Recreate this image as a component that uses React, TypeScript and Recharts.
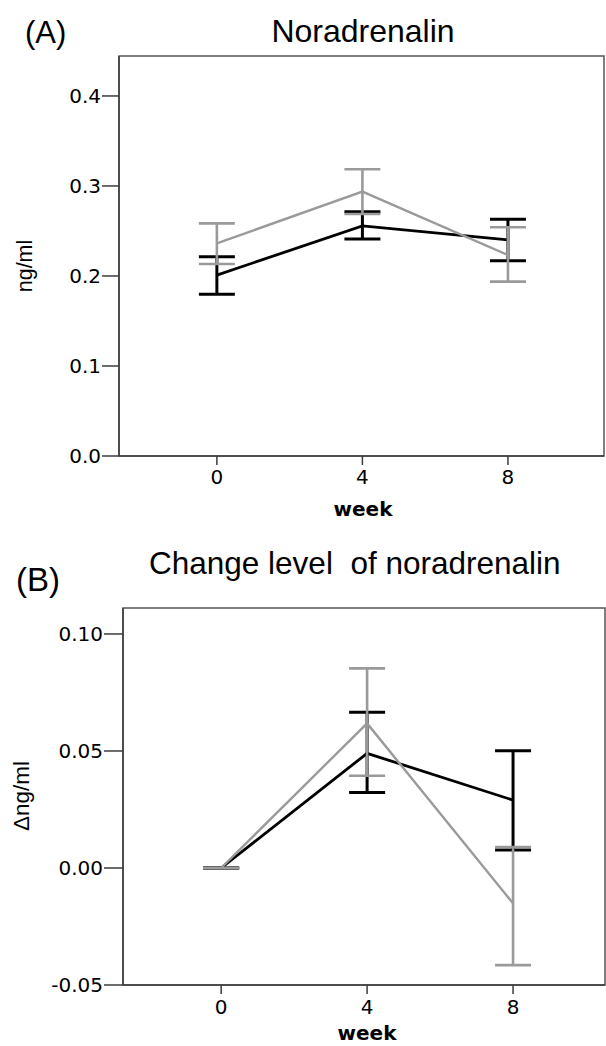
import React from 'react';
import { ComposedChart, Line, XAxis, YAxis, ErrorBar, ReferenceArea } from 'recharts';

// ---- data ----
const weeks = [0, 4, 8];
const weekTicks = [0, 4, 8];

// (A) Noradrenalin, ng/ml
const noraDarkMean = [0.201, 0.2556, 0.24];
const noraDarkUpper = [0.2215, 0.2715, 0.263];
const noraDarkLower = [0.1797, 0.2411, 0.217];
const noraLightMean = [0.2363, 0.2937, 0.2233];
const noraLightUpper = [0.2585, 0.3185, 0.2541];
const noraLightLower = [0.2133, 0.2689, 0.1937];
const noraTicks = [0, 0.1, 0.2, 0.3, 0.4];

// (B) Change level of noradrenalin, Δng/ml
const deltaDarkMean = [0, 0.049, 0.029];
const deltaDarkUpper = [0, 0.0665, 0.0501];
const deltaDarkLower = [0, 0.0323, 0.0077];
const deltaLightMean = [0, 0.0618, -0.0151];
const deltaLightUpper = [0, 0.0853, 0.009];
const deltaLightLower = [0, 0.0394, -0.0415];
const deltaTicks = [-0.05, 0, 0.05, 0.1];

const buildRows = (
  dm: number[], dl: number[], du: number[],
  lm: number[], ll: number[], lu: number[]
) =>
  weeks.map((w, i) => ({
    week: w,
    dark: dm[i],
    darkErr: [dm[i] - dl[i], du[i] - dm[i]],
    light: lm[i],
    lightErr: [lm[i] - ll[i], lu[i] - lm[i]],
  }));

const rowsA = buildRows(noraDarkMean, noraDarkLower, noraDarkUpper, noraLightMean, noraLightLower, noraLightUpper);
const rowsB = buildRows(deltaDarkMean, deltaDarkLower, deltaDarkUpper, deltaLightMean, deltaLightLower, deltaLightUpper);

const DARK = '#000000';
const LIGHT = '#9a9a9a';
const AXIS = '#3c3c3c';
const TICK_FS = 20;

const xDomA: [number, number] = [-2.69, 10.64];
const yDomA: [number, number] = [0, 0.4444];
const xDomB: [number, number] = [-2.69, 10.52];
const yDomB: [number, number] = [-0.05, 0.1111];

const XTick = (props: any) => {
  const { x, y, payload } = props;
  return (
    <text x={x} y={y} dy="0.72em" textAnchor="middle" fontSize={TICK_FS} fontFamily="DejaVu Sans, sans-serif" fill="#000">
      {String(payload.value)}
    </text>
  );
};

const makeYTick = (digits: number) => (props: any) => {
  const { x, y, payload } = props;
  return (
    <text x={x} y={y} dy="0.36em" textAnchor="end" fontSize={TICK_FS} fontFamily="DejaVu Sans, sans-serif" fill="#000">
      {Number(payload.value).toFixed(digits)}
    </text>
  );
};
const YTickA = makeYTick(1);
const YTickB = makeYTick(2);

export default function App() {
  return (
    <div style={{ position: 'absolute', left: 0, top: 0, width: 606, height: 1046, background: '#fff' }}>
      <div style={{ position: 'absolute', left: 0, top: 0 }}>
        <ComposedChart width={606} height={520} data={rowsA} margin={{ top: 56, right: 2, bottom: 34, left: 59 }}>
          <XAxis
            type="number"
            dataKey="week"
            domain={xDomA}
            allowDataOverflow
            ticks={weekTicks}
            interval={0}
            height={30}
            tickSize={9}
            tickMargin={5}
            stroke={AXIS}
            strokeWidth={1.5}
            tick={XTick}
          />
          <YAxis
            type="number"
            domain={yDomA}
            allowDataOverflow
            ticks={noraTicks}
            interval={0}
            width={60}
            tickSize={17}
            tickMargin={1}
            stroke={AXIS}
            strokeWidth={1.5}
            tick={YTickA}
          />
          <ReferenceArea x1={xDomA[0]} x2={xDomA[1]} y1={yDomA[0]} y2={yDomA[1]} fill="none" fillOpacity={0} stroke="#555" strokeWidth={1.5} ifOverflow="visible" />
          <Line type="linear" dataKey="dark" stroke={DARK} strokeWidth={2.8} dot={false} activeDot={false} isAnimationActive={false}>
            <ErrorBar dataKey="darkErr" width={18} stroke={DARK} strokeWidth={3} direction="y" isAnimationActive={false} />
          </Line>
          <Line type="linear" dataKey="light" stroke={LIGHT} strokeWidth={2.4} dot={false} activeDot={false} isAnimationActive={false}>
            <ErrorBar dataKey="lightErr" width={18} stroke={LIGHT} strokeWidth={2.6} direction="y" isAnimationActive={false} />
          </Line>
        </ComposedChart>
      </div>
      <div style={{ position: 'absolute', left: 0, top: 520 }}>
        <ComposedChart width={606} height={526} data={rowsB} margin={{ top: 88, right: 1, bottom: 31, left: 63 }}>
          <XAxis
            type="number"
            dataKey="week"
            domain={xDomB}
            allowDataOverflow
            ticks={weekTicks}
            interval={0}
            height={30}
            tickSize={9}
            tickMargin={6}
            stroke={AXIS}
            strokeWidth={1.5}
            tick={XTick}
          />
          <YAxis
            type="number"
            domain={yDomB}
            allowDataOverflow
            ticks={deltaTicks}
            interval={0}
            width={60}
            tickSize={19}
            tickMargin={1}
            stroke={AXIS}
            strokeWidth={1.5}
            tick={YTickB}
          />
          <ReferenceArea x1={xDomB[0]} x2={xDomB[1]} y1={yDomB[0]} y2={yDomB[1]} fill="none" fillOpacity={0} stroke="#555" strokeWidth={1.5} ifOverflow="visible" />
          <Line type="linear" dataKey="dark" stroke={DARK} strokeWidth={2.8} dot={false} activeDot={false} isAnimationActive={false}>
            <ErrorBar dataKey="darkErr" width={18} stroke={DARK} strokeWidth={3} direction="y" isAnimationActive={false} />
          </Line>
          <Line type="linear" dataKey="light" stroke={LIGHT} strokeWidth={2.4} dot={false} activeDot={false} isAnimationActive={false}>
            <ErrorBar dataKey="lightErr" width={18} stroke={LIGHT} strokeWidth={2.6} direction="y" isAnimationActive={false} />
          </Line>
        </ComposedChart>
      </div>
      <svg width={606} height={1046} style={{ position: 'absolute', left: 0, top: 0, pointerEvents: 'none' }}>
        <g fontFamily="Liberation Sans, Arial, sans-serif" fill="#000">
          <text x={25} y={43} fontSize={31}>(A)</text>
          <text x={363} y={41.5} fontSize={32} textAnchor="middle">Noradrenalin</text>
          <text x={16} y={591} fontSize={33}>(B)</text>
          <text x={149} y={574} fontSize={31.5}>{'Change level\u00A0 of noradrenalin'}</text>
          <text transform="translate(32,266) rotate(-90)" fontSize={21.5} textAnchor="middle">ng/ml</text>
          <text transform="translate(29,796) rotate(-90)" fontSize={22.5} textAnchor="middle">Δng/ml</text>
        </g>
        <g fontFamily="DejaVu Sans, sans-serif" fontWeight="bold" fill="#000" fontSize={20}>
          <text x={363} y={516} textAnchor="middle">week</text>
          <text x={367} y={1040} textAnchor="middle">week</text>
        </g>
      </svg>
    </div>
  );
}
